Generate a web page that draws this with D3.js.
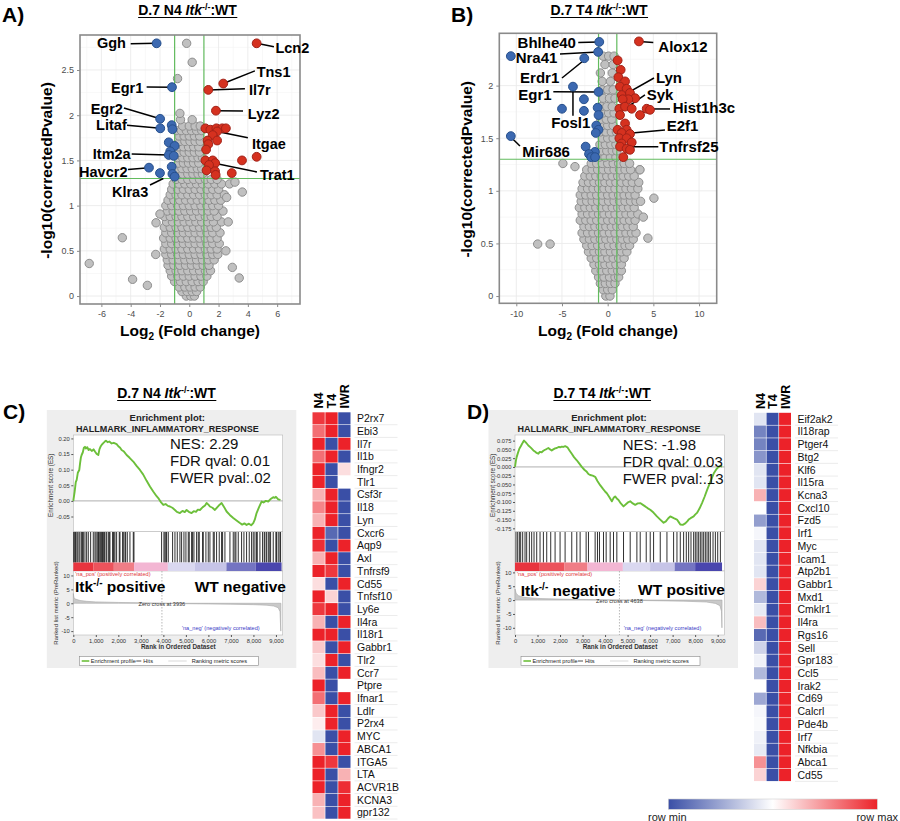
<!DOCTYPE html>
<html>
<head>
<meta charset="utf-8">
<script src="https://cdn.jsdelivr.net/npm/d3@7"></script>
<style>
  body { margin: 0; background: #fff; }
  svg { display: block; font-family: "Liberation Sans", Arial, Helvetica, sans-serif; }
</style>
</head>
<body>
<div id="fig"></div>
<script>
// ---------------- data: volcano A (D.7 N4) ----------------
// rows: [y, x, x, ...]
const greyRowsA = [
  [0.00, -0.2, 0.1, 0.35],
  [0.05, -0.5, -0.15, 0.2, 0.5],
  [0.10, -0.7, -0.3, 0.05, 0.4, 0.75],
  [0.16, -1.0, -0.6, -0.2, 0.2, 0.6, 0.95],
  [0.22, -1.2, -0.8, -0.4, 0.0, 0.4, 0.8, 1.2],
  [0.28, -1.3, -0.9, -0.5, -0.1, 0.3, 0.7, 1.1, 1.45],
  [0.34, -1.45, -1.05, -0.65, -0.25, 0.15, 0.55, 0.95, 1.35],
  [0.40, -1.5, -1.1, -0.7, -0.3, 0.1, 0.5, 0.9, 1.3, 1.7],
  [0.46, -1.6, -1.2, -0.8, -0.4, 0.0, 0.4, 0.8, 1.2, 1.6, 1.95],
  [0.52, -1.7, -1.3, -0.9, -0.5, -0.1, 0.3, 0.7, 1.1, 1.5, 1.9],
  [0.58, -1.6, -1.2, -0.8, -0.4, 0.0, 0.4, 0.8, 1.2, 1.6, 2.05],
  [0.64, -1.75, -1.3, -0.9, -0.5, -0.1, 0.3, 0.7, 1.1, 1.5, 1.9],
  [0.70, -1.6, -1.2, -0.8, -0.4, 0.0, 0.4, 0.8, 1.2, 1.6, 2.1],
  [0.76, -1.7, -1.3, -0.9, -0.5, -0.1, 0.3, 0.7, 1.1, 1.5, 1.85],
  [0.82, -1.55, -1.15, -0.75, -0.35, 0.05, 0.45, 0.85, 1.25, 1.65, 2.2],
  [0.88, -1.7, -1.3, -0.9, -0.5, -0.1, 0.3, 0.7, 1.1, 1.5, 1.9],
  [0.94, -1.5, -1.1, -0.7, -0.3, 0.1, 0.5, 0.9, 1.3, 1.7, 2.3],
  [1.00, -1.6, -1.2, -0.8, -0.4, 0.0, 0.4, 0.8, 1.2, 1.6, 2.0],
  [1.06, -1.45, -1.05, -0.65, -0.25, 0.15, 0.55, 0.95, 1.35, 1.75, 2.15],
  [1.12, -1.3, -0.9, -0.5, -0.1, 0.3, 0.7, 1.1, 1.5, 1.9, 2.4],
  [1.18, -1.2, -0.8, -0.4, 0.0, 0.4, 0.8, 1.2, 1.6, 2.0],
  [1.24, -1.1, -0.7, -0.3, 0.1, 0.5, 0.9, 1.3, 1.75, 2.2, 2.75],
  [1.29, -0.9, -0.5, -0.1, 0.3, 0.7, 1.1, 1.5, 1.9],
  [1.35, -0.8, -0.45, -0.1, 0.25, 0.6, 0.9],
  [1.41, -0.85, -0.5, -0.15, 0.2, 0.55, 0.85],
  [1.47, -0.75, -0.4, -0.05, 0.3, 0.65],
  [1.53, -0.8, -0.45, -0.1, 0.25, 0.6, 0.9],
  [1.59, -0.7, -0.35, 0.0, 0.35, 0.7],
  [1.65, -0.75, -0.4, -0.05, 0.3, 0.65],
  [1.71, -0.65, -0.3, 0.05, 0.4, 0.75],
  [1.77, -0.7, -0.35, 0.0, 0.35, 0.7],
  [1.83, -0.9, -0.55, -0.2, 0.15, 0.5, 0.85],
  [1.88, -0.45, 0.0, 0.4, 0.75],
  [1.95, -0.6, 0.2]
];
const greyOutA = [[-6.83, 0.36], [-4.57, 0.645], [-3.87, 0.185], [-2.86, 0.118], [-2.0, 0.907],
  [-2.27, 0.81], [-2.29, 0.46], [2.94, 0.317], [3.41, 0.2], [3.62, 1.15], [3.12, 1.26], [2.55, 1.09],
  [2.66, 0.82], [2.5, 0.5], [-0.18, 2.795], [0.2, 2.585], [-0.8, 2.405], [-0.64, 2.02]];
const blueA = [[-2.23, 2.795], [-1.18, 2.31], [-1.99, 1.96], [-1.98, 1.855], [-1.2, 1.89], [-1.15, 1.845],
  [-1.4, 1.7], [-1.0, 1.66], [-1.3, 1.6], [-1.4, 1.56], [-1.06, 1.55], [-1.2, 1.43], [-2.75, 1.42],
  [-2.0, 1.36], [-1.15, 1.35], [-1.0, 1.32]];
const redA = [[4.6, 2.795], [2.32, 2.35], [1.3, 2.28], [1.82, 2.05], [1.1, 1.855], [1.44, 1.84], [1.85, 1.855],
  [2.25, 1.855], [2.5, 1.855], [1.9, 1.82], [1.6, 1.78], [1.25, 1.72], [1.9, 1.72], [1.3, 1.68], [1.15, 1.62],
  [1.1, 1.5], [1.6, 1.5], [1.77, 1.47], [1.35, 1.45], [3.6, 1.5], [4.6, 1.54], [1.18, 1.39], [1.76, 1.38],
  [1.8, 1.34], [2.9, 1.36]];
// [gene, pointX, pointY, lineEndX, lineEndY, textX, textY, anchor]
const labelsA = [
  ["Ggh", -2.23, 2.795, -4.0, 2.79, -4.32, 2.80, "end"],
  ["Lcn2", 4.6, 2.795, 5.78, 2.757, 5.88, 2.745, "start"],
  ["Tns1", 2.32, 2.35, 4.48, 2.49, 4.6, 2.483, "start"],
  ["Il7r", 1.3, 2.28, 3.8, 2.293, 4.07, 2.28, "start"],
  ["Lyz2", 1.82, 2.05, 3.67, 2.046, 4.0, 2.015, "start"],
  ["Itgae", 1.9, 1.82, 4.0, 1.751, 4.28, 1.684, "start"],
  ["Trat1", 1.07, 1.49, 4.62, 1.372, 4.83, 1.34, "start"],
  ["Egr1", -1.18, 2.31, -2.91, 2.312, -3.14, 2.306, "end"],
  ["Egr2", -1.99, 1.96, -4.46, 2.08, -4.53, 2.07, "end"],
  ["Litaf", -1.98, 1.855, -4.25, 1.89, -4.27, 1.894, "end"],
  ["Itm2a", -1.4, 1.56, -3.93, 1.571, -4.0, 1.573, "end"],
  ["Havcr2", -2.75, 1.42, -4.18, 1.40, -4.22, 1.377, "end"],
  ["Klra3", -1.77, 1.30, -2.68, 1.228, -2.8, 1.156, "end"]
];

// ---------------- data: volcano B (D.7 T4) ----------------
const greyRowsB = [
  [0.00, -0.2, 0.25],
  [0.06, -0.5, 0.0, 0.5],
  [0.12, -0.8, -0.25, 0.3, 0.8],
  [0.18, -1.0, -0.4, 0.2, 0.8, 1.2],
  [0.24, -1.3, -0.7, -0.1, 0.5, 1.1, 1.5],
  [0.30, -1.5, -0.9, -0.3, 0.3, 0.9, 1.5],
  [0.36, -1.8, -1.2, -0.6, 0.0, 0.6, 1.2, 1.8],
  [0.42, -2.1, -1.5, -0.9, -0.3, 0.3, 0.9, 1.5, 2.1],
  [0.48, -2.3, -1.7, -1.1, -0.5, 0.1, 0.7, 1.3, 1.9, 2.4],
  [0.54, -2.6, -2.0, -1.4, -0.8, -0.2, 0.4, 1.0, 1.6, 2.2, 2.8],
  [0.60, -2.8, -2.2, -1.6, -1.0, -0.4, 0.2, 0.8, 1.4, 2.0, 2.6, 3.1],
  [0.66, -2.6, -2.0, -1.4, -0.8, -0.2, 0.4, 1.0, 1.6, 2.2, 2.8],
  [0.72, -3.0, -2.4, -1.8, -1.2, -0.6, 0.0, 0.6, 1.2, 1.8, 2.4, 3.0],
  [0.78, -2.8, -2.2, -1.6, -1.0, -0.4, 0.2, 0.8, 1.4, 2.0, 2.6, 3.3],
  [0.84, -3.1, -2.5, -1.9, -1.3, -0.7, -0.1, 0.5, 1.1, 1.7, 2.3, 2.9],
  [0.90, -2.9, -2.3, -1.7, -1.1, -0.5, 0.1, 0.7, 1.3, 1.9, 2.5, 3.1, 3.6],
  [0.96, -3.0, -2.4, -1.8, -1.2, -0.6, 0.0, 0.6, 1.2, 1.8, 2.4, 3.0],
  [1.02, -2.8, -2.2, -1.6, -1.0, -0.4, 0.2, 0.8, 1.4, 2.0, 2.6, 3.3],
  [1.08, -2.7, -2.1, -1.5, -0.9, -0.3, 0.3, 0.9, 1.5, 2.1, 2.7, 3.4],
  [1.14, -2.5, -1.9, -1.3, -0.7, -0.1, 0.5, 1.1, 1.7, 2.3, 2.9],
  [1.20, -2.3, -1.7, -1.1, -0.5, 0.1, 0.7, 1.3, 1.9, 2.5, 3.5],
  [1.26, -1.8, -1.2, -0.6, 0.0, 0.6, 1.2, 1.8, 2.4],
  [1.32, -0.9, -0.3, 0.3, 0.9],
  [1.38, -0.7, -0.1, 0.5, 1.0],
  [1.44, -0.85, -0.25, 0.35, 0.9],
  [1.50, -0.6, 0.0, 0.6],
  [1.56, -0.8, -0.2, 0.4, 0.95],
  [1.62, -0.6, 0.0, 0.6],
  [1.68, -0.75, -0.15, 0.45],
  [1.74, -0.5, 0.1, 0.7],
  [1.80, -0.7, -0.1, 0.5],
  [1.88, -0.5, 0.2, 0.8],
  [1.96, -0.6, 0.0, 0.6],
  [2.04, -0.6, 0.3],
  [2.12, -0.8, 0.5],
  [2.20, -0.3, 0.6],
  [2.28, -0.5, 0.1, 0.7]
];
const greyOutB = [[-7.66, 0.494], [-6.3, 0.494], [-4.9, 1.26], [-3.58, 1.23], [3.53, 1.2], [5.06, 0.93],
  [4.4, 0.55], [3.9, 0.75]];
const blueB = [[-0.92, 2.415], [-10.6, 2.28], [-1.04, 2.32], [-2.56, 2.26], [-1.0, 1.94], [-3.8, 1.99],
  [-2.6, 1.87], [-5.0, 1.78], [-2.6, 1.76], [-1.1, 1.79], [-1.0, 1.72], [-1.25, 1.62], [-1.0, 1.58],
  [-1.3, 1.55], [-10.6, 1.52], [-2.41, 1.42], [-1.4, 1.37], [-2.04, 1.35], [-1.8, 1.32], [-1.38, 1.32]];
const redB = [[3.42, 2.42], [1.09, 2.24], [1.42, 2.15], [1.17, 2.08], [1.9, 2.04], [1.35, 1.99], [2.07, 1.97],
  [1.53, 1.91], [2.44, 1.93], [3.0, 1.88], [2.26, 1.87], [1.64, 1.87], [1.28, 1.78], [1.9, 1.80], [2.63, 1.78],
  [3.54, 1.72], [4.27, 1.78], [4.63, 1.77], [1.35, 1.72], [1.09, 1.58], [1.9, 1.64], [2.07, 1.58], [1.53, 1.55],
  [2.44, 1.54], [1.28, 1.50], [2.07, 1.50], [1.53, 1.45], [2.63, 1.46], [1.35, 1.42], [2.07, 1.40], [2.44, 1.39],
  [1.71, 1.32]];
const labelsB = [
  ["Bhlhe40", -0.92, 2.415, -3.22, 2.41, -3.47, 2.41, "end"],
  ["Nra41", -1.04, 2.32, -5.22, 2.30, -5.51, 2.262, "end"],
  ["Erdr1", -2.7, 2.234, -5.0, 2.072, -5.3, 2.072, "end"],
  ["Egr1", -1.0, 1.94, -5.95, 1.942, -6.13, 1.913, "end"],
  ["Fosl1", -3.8, 1.968, -3.8, 1.714, -4.04, 1.645, "middle"],
  ["Mir686", -10.47, 1.50, -9.6, 1.426, -9.34, 1.374, "start"],
  ["Alox12", 3.42, 2.42, 4.99, 2.41, 5.54, 2.372, "start"],
  ["Lyn", 1.56, 1.90, 5.07, 2.072, 5.28, 2.072, "start"],
  ["Syk", 1.67, 1.768, 4.08, 1.911, 4.27, 1.913, "start"],
  ["Hist1h3c", 4.63, 1.778, 6.82, 1.778, 7.11, 1.787, "start"],
  ["E2f1", 1.46, 1.54, 6.27, 1.578, 6.46, 1.618, "start"],
  ["Tnfrsf25", 1.89, 1.419, 5.54, 1.419, 5.65, 1.421, "start"]
];

const xTicksA = [-6, -4, -2, 0, 2, 4, 6];
const yTicksA = [0, 0.5, 1, 1.5, 2, 2.5];
const xTicksB = [-10, -5, 0, 5, 10];
const yTicksB = [0, 0.5, 1, 1.5, 2];

// ---------------- data: GSEA C (N4) ----------------
const esC = [[0,0],[60,0.03],[110,0.06],[150,0.067],[200,0.09],[266,0.099],[300,0.12],[340,0.14],[370,0.147],
  [420,0.155],[470,0.17],[518,0.173],[560,0.168],[620,0.172],[680,0.163],[740,0.166],[820,0.16],[900,0.165],
  [962,0.158],[1040,0.15],[1110,0.147],[1160,0.165],[1220,0.175],[1258,0.179],[1330,0.185],[1400,0.19],
  [1450,0.193],[1520,0.188],[1600,0.19],[1702,0.184],[1800,0.186],[1924,0.182],[2000,0.175],[2080,0.17],
  [2146,0.163],[2250,0.158],[2368,0.147],[2500,0.138],[2664,0.126],[2800,0.113],[2960,0.099],[3100,0.085],
  [3250,0.065],[3404,0.046],[3550,0.03],[3700,0.015],[3774,0.009],[3900,-0.005],[3996,-0.013],[4100,-0.01],
  [4200,-0.016],[4292,-0.018],[4400,-0.022],[4514,-0.029],[4600,-0.035],[4736,-0.039],[4850,-0.032],
  [4950,-0.036],[5032,-0.029],[5130,-0.035],[5254,-0.039],[5350,-0.033],[5450,-0.035],[5530,-0.028],
  [5624,-0.029],[5750,-0.02],[5850,-0.015],[5920,-0.007],[6000,-0.012],[6068,-0.018],[6180,-0.022],
  [6290,-0.029],[6400,-0.02],[6500,-0.012],[6586,-0.007],[6700,-0.02],[6808,-0.034],[6950,-0.045],
  [7104,-0.055],[7250,-0.063],[7400,-0.071],[7500,-0.076],[7600,-0.072],[7696,-0.077],[7800,-0.073],
  [7900,-0.078],[7992,-0.071],[8060,-0.06],[8140,-0.039],[8250,-0.02],[8362,-0.002],[8450,-0.005],
  [8550,0.0],[8658,-0.002],[8750,0.005],[8880,0.012],[8950,0.01],[9000,0.013],[9102,0.005],[9200,0.003]];
const hitsC = [20,44,104,118,178,250,296,370,414,444,518,592,666,770,888,962,1010,1066,1120,1154,1214,1258,
  1300,1332,1376,1406,1480,1554,1598,1628,1746,1776,1806,1850,1924,2042,2072,2190,2220,2294,2324,2398,2516,
  2664,2694,3922,4026,4070,4114,4144,4218,4410,4514,4618,4736,4810,4914,5002,5106,5150,5254,5298,5358,5476,
  5550,5594,5742,5772,5890,5994,6068,6216,6260,6364,6482,6586,6630,6734,6956,7104,7178,7222,7326,7474,7578,
  7696,7814,7918,7992,8066,8140,8170,8288,8406,8480,8510,8584,8658,8702,8762,8880,8998,9028,9102,9176,9206];
const barC = [[0,900,"#e8343e"],[900,1800,"#ec535c"],[1800,2700,"#f07d86"],[2700,4200,"#f3b6d3"],
  [4200,5400,"#dad8f0"],[5400,6800,"#c6c4e7"],[6800,8100,"#7474c2"],[8100,9250,"#4a46ae"]];
const metricC = [[0,3.5],[30,2.0],[100,1.5],[300,1.0],[600,0.7],[1000,0.5],[2000,0.3],[3000,0.15],[3936,0],
  [5000,-0.15],[6000,-0.25],[7000,-0.35],[8000,-0.5],[8600,-0.7],[8900,-1.0],[9100,-1.6],[9180,-3],[9215,-10],[9220,0]];
const statsC = ["NES: 2.29", "FDR qval: 0.01", "FWER pval:.02"];
const esTicksC = [-0.05, 0, 0.05, 0.1, 0.15, 0.2];

// ---------------- data: GSEA D (T4) ----------------
const esD = [[0,0],[40,0.018],[74,0.028],[130,0.04],[193,0.052],[250,0.058],[297,0.064],[350,0.07],[400,0.075],
  [480,0.07],[530,0.066],[593,0.061],[700,0.055],[816,0.047],[900,0.043],[960,0.04],[1038,0.0375],[1100,0.043],
  [1186,0.042],[1260,0.046],[1335,0.049],[1400,0.051],[1483,0.054],[1560,0.05],[1631,0.047],[1700,0.05],
  [1780,0.053],[1854,0.054],[1950,0.057],[2002,0.056],[2076,0.058],[2150,0.057],[2230,0.059],[2328,0.056],
  [2420,0.047],[2521,0.0375],[2620,0.028],[2744,0.019],[2850,0.01],[2966,0.0],[3080,-0.008],[3189,-0.014],
  [3260,-0.02],[3337,-0.023],[3450,-0.025],[3560,-0.028],[3660,-0.04],[3782,-0.052],[3900,-0.062],[4000,-0.07],
  [4078,-0.075],[4180,-0.085],[4301,-0.098],[4380,-0.088],[4449,-0.084],[4520,-0.09],[4597,-0.094],
  [4700,-0.104],[4820,-0.1125],[4950,-0.105],[5040,-0.1],[5116,-0.098],[5230,-0.104],[5339,-0.108],
  [5450,-0.104],[5561,-0.103],[5680,-0.108],[5784,-0.1125],[5900,-0.118],[6006,-0.122],[6150,-0.13],
  [6303,-0.141],[6450,-0.15],[6600,-0.159],[6700,-0.155],[6800,-0.147],[6896,-0.141],[7050,-0.146],
  [7193,-0.15],[7280,-0.158],[7341,-0.164],[7450,-0.165],[7563,-0.161],[7650,-0.155],[7712,-0.15],
  [7800,-0.146],[7934,-0.141],[8000,-0.136],[8082,-0.131],[8200,-0.118],[8305,-0.103],[8420,-0.085],
  [8528,-0.066],[8680,-0.042],[8824,-0.019],[8950,-0.006],[9046,0.0],[9100,0.003],[9200,0.001]];
const hitsD = [44,119,193,252,341,445,519,638,741,845,964,1112,1261,1409,1587,1780,2002,2225,2521,2744,2892,
  3159,3263,3559,3663,3752,3930,4049,4227,4375,4523,4820,5116,5413,5561,5828,6006,6155,6451,6748,7044,7193,
  7341,7489,7608,7712,7816,7934,8008,8082,8157,8231,8305,8379,8453,8528,8602,8676,8795,8899,9003,9121];
const barD = [[0,1100,"#e8343e"],[1100,2200,"#ec535c"],[2200,3220,"#f07d86"],[3220,4790,"#f3b6d3"],
  [4790,6000,"#dad8f0"],[6000,7090,"#c6c4e7"],[7090,8000,"#7474c2"],[8000,9195,"#4a46ae"]];
const metricD = [[0,4],[50,2.5],[150,1.6],[400,1.0],[1000,0.6],[2000,0.35],[3500,0.15],[4638,0],[6000,-0.2],
  [7500,-0.4],[8500,-0.7],[8900,-1.2],[9100,-2],[9170,-4],[9190,-10],[9195,0]];
const statsD = ["NES: -1.98", "FDR qval: 0.03", "FWER pval:.13"];
const esTicksD = [-0.175, -0.15, -0.125, -0.1, -0.075, -0.05, -0.025, 0, 0.025, 0.05, 0.075];

const rankTicks = [0, 1000, 2000, 3000, 4000, 5000, 6000, 7000, 8000, 9000];
const metricTicks = [-10, -5, 0, 5, 10];

// ---------------- data: heatmaps ----------------
const heatCols = ["N4", "T4", "IWR"];
const genesC = ["P2rx7","Ebi3","Il7r","Il1b","Ifngr2","Tlr1","Csf3r","Il18","Lyn","Cxcr6","Aqp9","Axl",
  "Tnfrsf9","Cd55","Tnfsf10","Ly6e","Il4ra","Il18r1","Gabbr1","Tlr2","Ccr7","Ptpre","Ifnar1","Ldlr","P2rx4",
  "MYC","ABCA1","ITGA5","LTA","ACVR1B","KCNA3","gpr132"];
const n4C = [0.9,0.65,1,0.65,1,1,0.35,0.55,0.35,1,0.95,0.35,1,0.15,1,0.9,0.35,1,0.25,0.15,0.3,1,0.65,0.25,
  0.08,-0.15,0.5,1,1,1,0.35,0.28];
const t4C = [1,1,-1,1,-1,-1,1,1,1,-0.85,-1,1,0.9,-1,0.2,1,-1,1,-1,1,-1,-1,-1,1,1,-1,-1,0.9,-1,-1,-1,-1];
const iwrC = [-1,-1,1,-1,0.15,0,-1,-1,-1,-1,1,-1,-1,1,-1,-1,1,-1,1,-1,1,0,1,-1,-1,1,1,-1,0.35,0.95,1,1];

const genesD = ["Eif2ak2","Il18rap","Ptger4","Btg2","Klf6","Il15ra","Kcna3","Cxcl10","Fzd5","Irf1","Myc",
  "Icam1","Atp2b1","Gabbr1","Mxd1","Cmklr1","Il4ra","Rgs16","Sell","Gpr183","Ccl5","Irak2","Cd69","Calcrl",
  "Pde4b","Irf7","Nfkbia","Abca1","Cd55"];
const n4D = [-0.15,-0.7,-0.7,-0.6,-0.15,-0.15,0.35,0,-0.55,-0.05,-0.15,-0.15,-0.15,0.2,-0.4,-0.12,0.3,-0.85,
  -0.25,-0.08,-0.4,0,-0.5,-0.05,-0.03,-0.08,-0.12,0.5,0.2];
const t4D = genesD.map(() => -1);
const iwrD = genesD.map(() => 1);

// ---------------- drawing ----------------
const svg = d3.select("#fig").append("svg").attr("width", 900).attr("height", 821);
const fmtMinus = s => s.replace("\u2212", "-");

function panelLetter(x, y, t) {
  svg.append("text").attr("x", x).attr("y", y).attr("font-size", 21).attr("font-weight", "bold").text(t);
}

function title(cx, y, pre) {
  const t = svg.append("text").attr("x", cx).attr("y", y).attr("text-anchor", "middle")
    .attr("font-size", 14).attr("font-weight", "bold");
  t.append("tspan").text(pre + " ");
  t.append("tspan").attr("font-style", "italic").text("Itk");
  t.append("tspan").attr("font-size", 9).attr("dy", -5).text("-/-");
  t.append("tspan").attr("dy", 5).text(":WT");
  const bb = t.node().getBBox();
  svg.append("line").attr("x1", bb.x).attr("x2", bb.x + bb.width).attr("y1", y + 2.5).attr("y2", y + 2.5)
    .attr("stroke", "#000").attr("stroke-width", 1.2);
}

function volcano(cfg) {
  const g = svg.append("g");
  const x = d3.scaleLinear().domain(cfg.xDomain).range([cfg.left, cfg.right]);
  const y = d3.scaleLinear().domain(cfg.yDomain).range([cfg.bottom, cfg.top]);

  g.append("rect").attr("x", cfg.left).attr("y", cfg.top).attr("width", cfg.right - cfg.left)
    .attr("height", cfg.bottom - cfg.top).attr("fill", "#fff");
  const xMinor = d3.pairs(cfg.xTicks).map(p => (p[0] + p[1]) / 2)
    .concat([cfg.xTicks[0] - (cfg.xTicks[1] - cfg.xTicks[0]) / 2, cfg.xTicks[cfg.xTicks.length - 1] + (cfg.xTicks[1] - cfg.xTicks[0]) / 2]);
  const yMinor = d3.pairs(cfg.yTicks).map(p => (p[0] + p[1]) / 2)
    .concat([cfg.yTicks[cfg.yTicks.length - 1] + (cfg.yTicks[1] - cfg.yTicks[0]) / 2]);
  xMinor.filter(v => x(v) > cfg.left && x(v) < cfg.right).forEach(v =>
    g.append("line").attr("x1", x(v)).attr("x2", x(v)).attr("y1", cfg.top).attr("y2", cfg.bottom)
      .attr("stroke", "#f4f4f4").attr("stroke-width", 0.6));
  yMinor.filter(v => y(v) > cfg.top).forEach(v =>
    g.append("line").attr("y1", y(v)).attr("y2", y(v)).attr("x1", cfg.left).attr("x2", cfg.right)
      .attr("stroke", "#f4f4f4").attr("stroke-width", 0.6));
  cfg.xTicks.forEach(v =>
    g.append("line").attr("x1", x(v)).attr("x2", x(v)).attr("y1", cfg.top).attr("y2", cfg.bottom)
      .attr("stroke", "#ebebeb").attr("stroke-width", 0.9));
  cfg.yTicks.forEach(v =>
    g.append("line").attr("y1", y(v)).attr("y2", y(v)).attr("x1", cfg.left).attr("x2", cfg.right)
      .attr("stroke", "#ebebeb").attr("stroke-width", 0.9));

  const grey = cfg.greyRows.flatMap(r => r.slice(1).map(v => [v, r[0]])).concat(cfg.greyOut);
  g.append("g").selectAll("circle").data(grey).join("circle")
    .attr("cx", d => x(d[0])).attr("cy", d => y(d[1])).attr("r", 4.2)
    .attr("fill", "#c0c0c0").attr("stroke", "#8e8e8e").attr("stroke-width", 1);

  // thresholds
  [-1, 1].forEach(v => g.append("line").attr("x1", x(v)).attr("x2", x(v)).attr("y1", cfg.top).attr("y2", cfg.bottom)
    .attr("stroke", "#62bb5e").attr("stroke-width", 1.2));
  g.append("line").attr("x1", cfg.left).attr("x2", cfg.right).attr("y1", y(1.3)).attr("y2", y(1.3))
    .attr("stroke", "#62bb5e").attr("stroke-width", 1.2);

  // label leader lines
  g.append("g").selectAll("line").data(cfg.labels).join("line")
    .attr("x1", d => x(d[1])).attr("y1", d => y(d[2])).attr("x2", d => x(d[3])).attr("y2", d => y(d[4]))
    .attr("stroke", "#000").attr("stroke-width", 1.5);

  g.append("g").selectAll("circle").data(cfg.blue).join("circle")
    .attr("cx", d => x(d[0])).attr("cy", d => y(d[1])).attr("r", 4.4)
    .attr("fill", "#3c69b1").attr("stroke", "#27508d").attr("stroke-width", 1);
  g.append("g").selectAll("circle").data(cfg.red).join("circle")
    .attr("cx", d => x(d[0])).attr("cy", d => y(d[1])).attr("r", 4.4)
    .attr("fill", "#d5311f").attr("stroke", "#a22218").attr("stroke-width", 1);

  g.append("rect").attr("x", cfg.left).attr("y", cfg.top).attr("width", cfg.right - cfg.left)
    .attr("height", cfg.bottom - cfg.top).attr("fill", "none").attr("stroke", "#8a8a8a").attr("stroke-width", 1.6);

  g.append("g").selectAll("text").data(cfg.labels).join("text")
    .attr("x", d => x(d[5])).attr("y", d => y(d[6])).attr("dy", "0.36em").attr("text-anchor", d => d[7])
    .attr("font-size", cfg.labelSize).attr("font-weight", "bold").text(d => d[0]);

  const ax = g.append("g").attr("transform", `translate(0,${cfg.bottom})`)
    .call(d3.axisBottom(x).tickValues(cfg.xTicks).tickSize(3).tickPadding(4).tickFormat(d => String(d)));
  const ay = g.append("g").attr("transform", `translate(${cfg.left},0)`)
    .call(d3.axisLeft(y).tickValues(cfg.yTicks).tickSize(3).tickPadding(3).tickFormat(d => String(d)));
  [ax, ay].forEach(a => {
    a.select(".domain").remove();
    a.selectAll("line").attr("stroke", "#8a8a8a");
    a.selectAll("text").attr("fill", "#4d4d4d").attr("font-size", 9).attr("font-family", null);
  });

  svg.append("text").attr("transform", `translate(${cfg.yLabelX},${(cfg.top + cfg.bottom) / 2 + 1}) rotate(-90)`)
    .attr("text-anchor", "middle").attr("font-size", 15.5).attr("font-weight", "bold")
    .text("-log10(correctedPvalue)");
  const xl = svg.append("text").attr("x", (cfg.left + cfg.right) / 2).attr("y", 336)
    .attr("text-anchor", "middle").attr("font-size", 15.5).attr("font-weight", "bold");
  xl.append("tspan").text("Log");
  xl.append("tspan").attr("font-size", 10).attr("dy", 4).text("2");
  xl.append("tspan").attr("dy", -4).text(" (Fold change)");
}

function bigLabel(g, x, y, anchor, pre, post) {
  const t = g.append("text").attr("x", x).attr("y", y).attr("text-anchor", anchor)
    .attr("font-size", 15.5).attr("font-weight", "bold");
  t.append("tspan").text(pre);
  if (post !== null) {
    t.append("tspan").attr("font-size", 10).attr("dy", -6).text("-/-");
    t.append("tspan").attr("dy", 6).text(post);
  }
}

function gsea(cfg) {
  const L = cfg.L, R = L + 209.4;
  const g = svg.append("g");
  const top = 435, esB = 531.5, hitsB = 562.5, barB = 571, rankB = 635;
  g.append("rect").attr("x", L - 26.5).attr("y", 410).attr("width", 249.5).attr("height", 258).attr("fill", "#eeeeee");

  g.append("text").attr("x", L + 94).attr("y", 420.5).attr("text-anchor", "middle")
    .attr("font-size", 9.5).attr("font-weight", "bold").attr("fill", "#222").text("Enrichment plot:");
  g.append("text").attr("x", L + 94).attr("y", 432).attr("text-anchor", "middle")
    .attr("font-size", 9).attr("font-weight", "bold").attr("fill", "#222").text("HALLMARK_INFLAMMATORY_RESPONSE");

  const x = d3.scaleLinear().domain([0, 9300]).range([L, R]);
  const yE = d3.scaleLinear().domain(cfg.esDomain).range([esB, top]);
  const yM = d3.scaleLinear().domain(cfg.metricDomain).range([rankB, barB]);

  [[top, esB], [esB, barB], [barB, rankB]].forEach(p =>
    g.append("rect").attr("x", L).attr("y", p[0]).attr("width", R - L).attr("height", p[1] - p[0])
      .attr("fill", "#fff").attr("stroke", "#b8b8b8").attr("stroke-width", 0.6));

  g.append("line").attr("x1", L).attr("x2", R).attr("y1", yE(0)).attr("y2", yE(0))
    .attr("stroke", "#9a9a9a").attr("stroke-width", 0.8);

  // hits
  g.append("g").selectAll("line").data(cfg.hits).join("line")
    .attr("x1", d => x(d)).attr("x2", d => x(d)).attr("y1", esB + 0.5).attr("y2", hitsB)
    .attr("stroke", "#1a1a1a").attr("stroke-width", 0.9);
  // colour bar
  g.append("g").selectAll("rect").data(cfg.bar).join("rect")
    .attr("x", d => x(d[0])).attr("width", d => x(d[1]) - x(d[0])).attr("y", hitsB).attr("height", barB - hitsB)
    .attr("fill", d => d[2]);

  // ranked metric
  g.append("path").datum(cfg.metric)
    .attr("d", d3.area().x(d => x(d[0])).y0(yM(0)).y1(d => yM(d[1])))
    .attr("fill", "#c9c9c9").attr("stroke", "#a8a8a8").attr("stroke-width", 0.6);
  g.append("line").attr("x1", x(cfg.zero)).attr("x2", x(cfg.zero)).attr("y1", barB).attr("y2", rankB)
    .attr("stroke", "#9a9a9a").attr("stroke-width", 0.7).attr("stroke-dasharray", "1.5,1.5");
  g.append("text").attr("x", x(cfg.zero)).attr("y", yM(0) + 3).attr("text-anchor", "middle")
    .attr("font-size", 5.6).attr("fill", "#333").text("Zero cross at " + cfg.zero);
  g.append("text").attr("x", L + 2).attr("y", barB + 4.8).attr("font-size", 5.6).attr("fill", "#e0363a")
    .text("'na_pos' (positively correlated)");
  g.append("text").attr("x", L + 147.5).attr("y", 630).attr("text-anchor", "middle").attr("font-size", 5.6)
    .attr("fill", "#3a3ac6").text("'na_neg' (negatively correlated)");

  // ES curve
  g.append("path").datum(cfg.es)
    .attr("d", d3.line().x(d => x(d[0])).y(d => yE(d[1])))
    .attr("fill", "none").attr("stroke", "#6cbf3a").attr("stroke-width", 1.9).attr("stroke-linejoin", "round");

  // axes
  const aE = g.append("g").attr("transform", `translate(${L},0)`)
    .call(d3.axisLeft(yE).tickValues(cfg.esTicks).tickSize(2).tickPadding(1.5)
      .tickFormat(d => fmtMinus(d3.format(cfg.esFmt)(d))));
  const aM = g.append("g").attr("transform", `translate(${L},0)`)
    .call(d3.axisLeft(yM).tickValues(metricTicks).tickSize(2).tickPadding(1.5).tickFormat(d => String(d)));
  const aX = g.append("g").attr("transform", `translate(0,${rankB})`)
    .call(d3.axisBottom(x).tickValues(rankTicks).tickSize(2).tickPadding(1.5).tickFormat(d3.format(",")));
  [aE, aM, aX].forEach(a => {
    a.select(".domain").remove();
    a.selectAll("line").attr("stroke", "#555");
    a.selectAll("text").attr("fill", "#333").attr("font-size", 5.8).attr("font-family", null);
  });
  g.append("text").attr("transform", `translate(${L - 20.5},${(top + esB) / 2 + 2}) rotate(-90)`)
    .attr("text-anchor", "middle").attr("font-size", 6.3).attr("fill", "#333").text("Enrichment score (ES)");
  g.append("text").attr("transform", `translate(${L - 15},${(barB + rankB) / 2}) rotate(-90)`)
    .attr("text-anchor", "middle").attr("font-size", 6).attr("fill", "#333").text("Ranked list metric (PreRanked)");
  g.append("text").attr("x", L + 105).attr("y", 648.5).attr("text-anchor", "middle")
    .attr("font-size", 6.4).attr("font-weight", "bold").attr("fill", "#333").text("Rank in Ordered Dataset");

  // legend
  const ly = 661;
  g.append("rect").attr("x", L + 6).attr("y", 656.5).attr("width", 179).attr("height", 9)
    .attr("fill", "#fff").attr("stroke", "#888").attr("stroke-width", 0.6);
  g.append("line").attr("x1", L + 8.4).attr("x2", L + 16).attr("y1", ly).attr("y2", ly)
    .attr("stroke", "#6cbf3a").attr("stroke-width", 1.6);
  g.append("line").attr("x1", L + 63).attr("x2", L + 68).attr("y1", ly).attr("y2", ly)
    .attr("stroke", "#222").attr("stroke-width", 0.8);
  g.append("line").attr("x1", L + 95).attr("x2", L + 113.4).attr("y1", ly).attr("y2", ly)
    .attr("stroke", "#cfcfcf").attr("stroke-width", 0.8);
  [["Enrichment profile", 17.5], ["Hits", 70], ["Ranking metric scores", 118.4]].forEach(t =>
    g.append("text").attr("x", L + t[1]).attr("y", ly + 2).attr("font-size", 5.6).attr("fill", "#222").text(t[0]));

  // statistics and group labels
  cfg.stats.forEach((s, i) =>
    g.append("text").attr("x", L + cfg.statX).attr("y", cfg.statY + i * 17.2).attr("font-size", 15)
      .attr("fill", "#111").text(s));
  bigLabel(g, L + cfg.leftLab[0], cfg.leftLab[1], "start", "Itk", cfg.leftWord);
  bigLabel(g, L + cfg.rightLab[0], cfg.rightLab[1], "end", cfg.rightWord, null);
}

const heatColor = d3.scaleLinear().domain([-1, 0, 1]).range(["#3a4fa6", "#ffffff", "#ec2229"]);

function heatmap(cfg) {
  const g = svg.append("g");
  const yb = d3.scaleBand().domain(cfg.genes).range([cfg.top, cfg.top + cfg.genes.length * 12.72]);
  const xb = d3.scaleBand().domain(heatCols).range([cfg.left, cfg.right]).paddingInner(0.05);
  const cells = cfg.genes.flatMap((gene, i) => heatCols.map((c, j) => ({ gene, c, v: cfg.values[j][i] })));
  g.selectAll("line.sep").data(cfg.genes).join("line")
    .attr("x1", cfg.right + 4).attr("x2", cfg.right + 47).attr("y1", d => yb(d) + yb.bandwidth())
    .attr("y2", d => yb(d) + yb.bandwidth()).attr("stroke", "#e4e4e4").attr("stroke-width", 0.7);
  g.selectAll("rect").data(cells).join("rect")
    .attr("x", d => xb(d.c)).attr("y", d => yb(d.gene) + 0.3).attr("width", xb.bandwidth())
    .attr("height", yb.bandwidth() - 0.6).attr("fill", d => heatColor(d.v));
  g.selectAll("text.gene").data(cfg.genes).join("text")
    .attr("x", cfg.right + 6.5).attr("y", d => yb(d) + yb.bandwidth() / 2).attr("dy", "0.36em")
    .attr("font-size", 10.5).attr("fill", "#111").text(d => d);
  heatCols.forEach(c =>
    g.append("text").attr("transform", `translate(${xb(c) + xb.bandwidth() / 2 + 4.6},${cfg.top - 3.5}) rotate(-90)`)
      .attr("font-size", 12.5).attr("font-weight", "bold").text(c));
}

// ---- panels ----
panelLetter(2, 22, "A)");
panelLetter(451, 22, "B)");
panelLetter(3, 419, "C)");
panelLetter(467, 419, "D)");
title(187.5, 15, "D.7 N4");
title(599, 15, "D.7 T4");
title(166.5, 398, "D.7 N4");
title(602, 398, "D.7 T4");

volcano({
  left: 80, right: 300, top: 35, bottom: 304, xDomain: [-7.46, 7.56], yDomain: [-0.088, 2.887],
  xTicks: xTicksA, yTicks: yTicksA, greyRows: greyRowsA, greyOut: greyOutA, blue: blueA, red: redA,
  labels: labelsA, labelSize: 14.5, yLabelX: 52
});
volcano({
  left: 499.3, right: 716.7, top: 33.3, bottom: 303.3, xDomain: [-11.86, 11.93], yDomain: [-0.069, 2.497],
  xTicks: xTicksB, yTicks: yTicksB, greyRows: greyRowsB, greyOut: greyOutB, blue: blueB, red: redB,
  labels: labelsB, labelSize: 15, yLabelX: 472
});

gsea({
  L: 73.3, es: esC, esDomain: [-0.098, 0.211], esTicks: esTicksC, esFmt: ".2f", hits: hitsC, bar: barC,
  metric: metricC, metricDomain: [-11.4, 11.6], zero: 3936, stats: statsC, statX: 96.7, statY: 449,
  leftLab: [1.7, 592], leftWord: " positive", rightLab: [212.7, 592], rightWord: "WT negative"
});
gsea({
  L: 515, es: esD, esDomain: [-0.184, 0.091], esTicks: esTicksD, esFmt: ".3f", hits: hitsD, bar: barD,
  metric: metricD, metricDomain: [-12.6, 10.5], zero: 4638, stats: statsD, statX: 107.7, statY: 450,
  leftLab: [5.7, 595.5], leftWord: " negative", rightLab: [210, 595], rightWord: "WT positive"
});

heatmap({ genes: genesC, values: [n4C, t4C, iwrC], left: 312.5, right: 350.5, top: 412 });
heatmap({ genes: genesD, values: [n4D, t4D, iwrD], left: 754, right: 791, top: 412.5 });

// colour legend
const grad = svg.append("defs").append("linearGradient").attr("id", "rowgrad");
grad.append("stop").attr("offset", "0%").attr("stop-color", "#3a4fa6");
grad.append("stop").attr("offset", "50%").attr("stop-color", "#ffffff");
grad.append("stop").attr("offset", "100%").attr("stop-color", "#ec2229");
svg.append("rect").attr("x", 668.3).attr("y", 799).attr("width", 209).attr("height", 10.3)
  .attr("fill", "url(#rowgrad)").attr("stroke", "#d0d0d0").attr("stroke-width", 0.6);
svg.append("text").attr("x", 648).attr("y", 820.5).attr("font-size", 11).attr("fill", "#222").text("row min");
svg.append("text").attr("x", 898).attr("y", 820.5).attr("text-anchor", "end").attr("font-size", 11)
  .attr("fill", "#222").text("row max");
</script>
</body>
</html>
